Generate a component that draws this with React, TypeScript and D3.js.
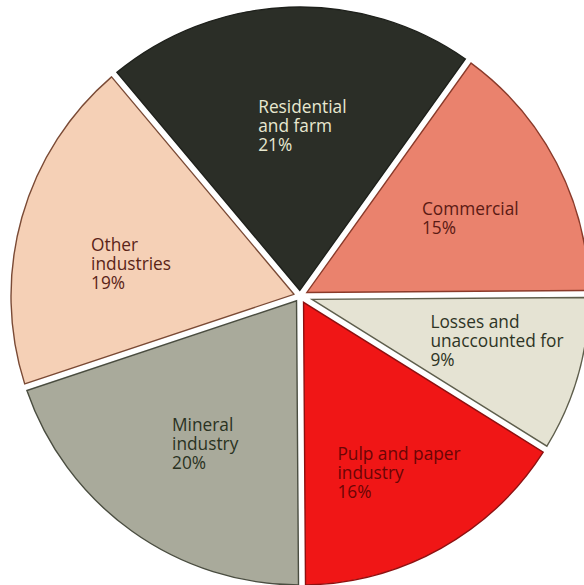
import React, { useMemo } from "react";
import * as d3 from "d3";

const categories = ["Residential\nand farm", "Commercial", "Losses and\nunaccounted for", "Pulp and paper\nindustry", "Mineral\nindustry", "Other\nindustries"];
const shares = [21, 15, 9, 16, 20, 19];
const percentLabels = ["21%", "15%", "9%", "16%", "20%", "19%"];

const fills = ["#2b2e27", "#ea826d", "#e5e3d3", "#f01616", "#a9aa9b", "#f5d0b6"];
const strokes = ["#1e201b", "#8a3a2a", "#5e5e4c", "#8e1010", "#4a4d40", "#7a4a35"];
const textColors = ["#e8e8d0", "#5b1a14", "#2e3425", "#6a0505", "#2a3222", "#5a2418"];
const labelRadius = [170, 187, 202, 203, 176, 172];
const labelNudgeDeg = [3, 3, -3, 0, -3, -5];

const W = 584;
const H = 585;
const CX = 300;
const CY = 296;
const R = 289;
const GAP = 7;
const FONT = 17.3;
const LINE = 19;
const FAMILY = '"Open Sans", "DejaVu Sans", sans-serif';

export default function App() {
  const arcs = useMemo(
    () =>
      d3
        .pie<number>()
        .sort(null)
        .value((d) => d)
        .startAngle((-40 * Math.PI) / 180)
        .endAngle((320 * Math.PI) / 180)(shares),
    []
  );

  const arcGen = d3
    .arc<d3.PieArcDatum<number>>()
    .outerRadius(R)
    .innerRadius((d) => GAP / 2 / Math.sin((d.endAngle - d.startAngle) / 2))
    .padAngle(GAP / R)
    .padRadius(R);

  const measure = useMemo(() => {
    const ctx = document.createElement("canvas").getContext("2d");
    if (ctx) ctx.font = `${FONT}px ${FAMILY}`;
    return (s: string) => (ctx ? ctx.measureText(s).width : s.length * FONT * 0.55);
  }, []);

  return (
    <svg
      width={W}
      height={H}
      style={{ position: "absolute", left: 0, top: 0, display: "block", background: "#ffffff" }}
    >
      <g transform={`translate(${CX},${CY})`}>
        {arcs.map((a, i) => (
          <path key={i} d={arcGen(a) || ""} fill={fills[i]} stroke={strokes[i]} strokeWidth={1.4} />
        ))}
        {arcs.map((a, i) => {
          const lines = [...categories[i].split("\n"), percentLabels[i]];
          const mid = (a.startAngle + a.endAngle) / 2 + (labelNudgeDeg[i] * Math.PI) / 180;
          const ax = labelRadius[i] * Math.sin(mid);
          const ay = -labelRadius[i] * Math.cos(mid);
          const bw = Math.max(...lines.map(measure));
          const bh = (lines.length - 1) * LINE;
          const x0 = ax - bw / 2;
          const y0 = ay - bh / 2 + FONT * 0.36;
          return (
            <text
              key={`t${i}`}
              x={x0}
              y={y0}
              fill={textColors[i]}
              fontFamily={FAMILY}
              fontSize={FONT}
            >
              {lines.map((l, j) => (
                <tspan key={j} x={x0} y={y0 + j * LINE}>
                  {l}
                </tspan>
              ))}
            </text>
          );
        })}
      </g>
    </svg>
  );
}
